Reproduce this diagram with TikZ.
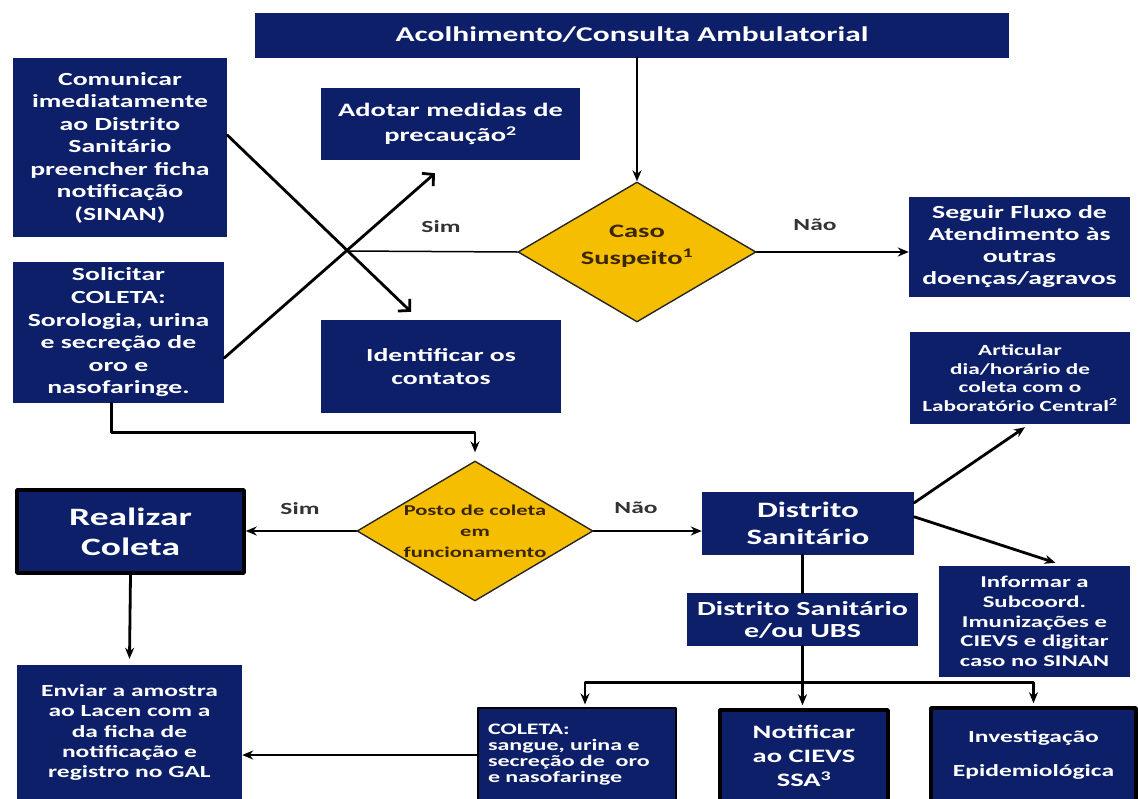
\documentclass[tikz,border=0pt]{standalone}
\usepackage{fontspec}
\setmainfont{Carlito}[FakeStretch=1.5]
\usetikzlibrary{shapes.geometric,arrows.meta}
\definecolor{azulfluxo}{RGB}{12,31,104}
\definecolor{amarelofluxo}{RGB}{246,190,0}
\definecolor{textodiam}{RGB}{58,38,0}

\begin{document}
\begin{tikzpicture}[x=1pt,y=-1pt,line cap=round,line join=round,
	caixa/.style={fill=azulfluxo,text=white,font=\bfseries,align=center,inner sep=0pt},
	moldura/.style={draw=black,line width=3.5pt},
	losango/.style={diamond,fill=amarelofluxo,draw=black!85,line width=1.4pt,inner sep=0pt},
	textodiamante/.style={text=textodiam,font=\bfseries,align=center},
	seta/.style={line width=2.8pt,-{Stealth[length=11pt,width=9pt]}},
	farpa/.style={line width=2.8pt,-{Straight Barb[length=8pt,width=17pt,line width=2.8pt]}},
	linha/.style={line width=2.8pt},
	fina/.style={line width=1.5pt},
	rotulo/.style={font=\bfseries\fontsize{17}{20}\selectfont,text=black!80}]
	\useasboundingbox (0,0) rectangle (1138,798);
	\clip (0,0) rectangle (1138,798);
	%% caixas
	\node[caixa,minimum width=754pt,minimum height=45pt,font=\bfseries\fontsize{21}{24}\selectfont] (acolh) at (632,35) {Acolhimento/Consulta Ambulatorial};
	\node[caixa,minimum width=214pt,minimum height=179pt,font=\bfseries\fontsize{18.5}{22.5}\selectfont] (comunicar) at (120,147.5) {Comunicar\\imediatamente\\ao Distrito\\Sanitário\\preencher ficha\\notificação\\(SINAN)};
	\node[caixa,minimum width=259pt,minimum height=72pt,font=\bfseries\fontsize{19}{25}\selectfont] (adotar) at (450.5,124) {Adotar medidas de\\precaução\textsuperscript{2}};
	\node[losango,minimum width=238pt,minimum height=140pt,label={[textodiamante,font=\bfseries\fontsize{19}{27}\selectfont,yshift=6pt]center:{Caso\\Suspeito\textsuperscript{1}}}] (caso) at (637,252) {};
	\node[caixa,minimum width=221pt,minimum height=100pt,font=\bfseries\fontsize{18.5}{22}\selectfont] (seguir) at (1019.5,247) {Seguir Fluxo de\\Atendimento às\\outras\\doenças/agravos};
	\node[caixa,minimum width=211pt,minimum height=141pt,font=\bfseries\fontsize{18.5}{22.6}\selectfont] (solicitar) at (118.5,332.5) {Solicitar\\COLETA:\\Sorologia, urina\\e secreção de\\oro e\\nasofaringe.};
	\node[caixa,minimum width=240pt,minimum height=93pt,font=\bfseries\fontsize{18.5}{23}\selectfont] (identificar) at (441,366.5) {Identificar os\\contatos};
	\node[caixa,minimum width=220pt,minimum height=92pt,font=\bfseries\fontsize{15.5}{18.5}\selectfont] (articular) at (1020,378) {Articular\\dia/horário de\\coleta com o\\Laboratório Central\textsuperscript{2}};
	\node[losango,minimum width=236pt,minimum height=140pt,label={[textodiamante,font=\bfseries\fontsize{15}{21}\selectfont]center:{Posto de coleta\\em\\funcionamento}}] (posto) at (475,531) {};
	\node[caixa,moldura,minimum width=227pt,minimum height=83pt,font=\bfseries\fontsize{25}{30}\selectfont] (realizar) at (130.5,531.5) {Realizar\\Coleta};
	\node[caixa,minimum width=225pt,minimum height=135pt,font=\bfseries\fontsize{17}{20.4}\selectfont] (enviar) at (129.5,732.5) {Enviar a amostra\\ao Lacen com a\\da ficha de\\notificação e\\registro no GAL};
	\node[caixa,minimum width=212pt,minimum height=63pt,font=\bfseries\fontsize{22}{27}\selectfont] (distrito) at (808,523.5) {Distrito\\Sanitário};
	\node[caixa,minimum width=231pt,minimum height=53pt,font=\bfseries\fontsize{20}{22}\selectfont] (dsubs) at (802.5,619.5) {Distrito Sanitário\\e/ou UBS};
	\node[caixa,minimum width=191pt,minimum height=111pt,font=\bfseries\fontsize{16.5}{19.6}\selectfont] (informar) at (1034.5,621.5) {Informar a\\Subcoord.\\Imunizações e\\CIEVS e digitar\\caso no SINAN};
	\node[caixa,draw=black,line width=1.2pt,minimum width=198pt,minimum height=94pt,text width=178pt,align=left,font=\bfseries\fontsize{16}{16}\selectfont] (coleta) at (577,755) {COLETA:\\sangue, urina e\\secreção de~ oro\\e nasofaringe};
	\node[caixa,moldura,minimum width=168pt,minimum height=92pt,font=\bfseries\fontsize{19}{24}\selectfont] (notificar) at (804,756) {Notificar\\ao CIEVS\\SSA\textsuperscript{3}};
	\node[caixa,moldura,minimum width=205pt,minimum height=94pt,font=\bfseries\fontsize{17}{24}\selectfont] (investig) at (1033.5,755) {Investigação\\[10pt]Epidemiológica};
	%% rotulos
	\node[rotulo] (sim1) at (441,227) {Sim};
	\node[rotulo] (nao1) at (815,225) {Não};
	\node[rotulo] (sim2) at (300,509) {Sim};
	\node[rotulo] (nao2) at (636,508) {Não};
	\coordinate (kreuz) at (347,251);
	%% conectores
	\draw[seta] (caso.north |- acolh.south) -- (caso.north);
	\draw[seta] (caso.east) -- (seguir.west |- caso.east);
	\draw[fina] (caso.west) -- (kreuz);
	\draw[farpa] ([yshift=12.5pt]comunicar.east) -- ([xshift=-30pt,yshift=8pt]identificar.north);
	\draw[farpa] ([yshift=-25.5pt]solicitar.east) -- ([xshift=-15.5pt,yshift=-13pt]adotar.south);
	\draw[seta] ([xshift=-7pt]solicitar.south) -- ++(0,29) -| ([yshift=8pt]posto.north);
	\draw[seta] (posto.west) -- (realizar.east |- posto.west);
	\draw[seta] (posto.east) -- (distrito.west |- posto.east);
	\draw[seta] (realizar.south) -- ([yshift=6pt]enviar.north);
	\draw[seta] ([yshift=-11pt]distrito.north east) -- ([xshift=5pt,yshift=-3pt]articular.south);
	\draw[seta] ([yshift=-25pt]distrito.north east) -- ([xshift=21pt,yshift=3pt]informar.north);
	\draw[linha] (dsubs.north |- distrito.south) -- (dsubs.north);
	\draw[linha] (dsubs.south) -- ++(0,36) coordinate (ramo);
	\draw[seta] (ramo) -| ([xshift=8pt,yshift=3pt]coleta.north);
	\draw[seta] (ramo) -- ([yshift=3pt]ramo |- notificar.north);
	\draw[seta] (ramo) -| ([yshift=3pt]investig.north);
	\draw[seta,line width=1.8pt] (coleta.west) -- (enviar.east |- coleta.west);
\end{tikzpicture}
\end{document}
